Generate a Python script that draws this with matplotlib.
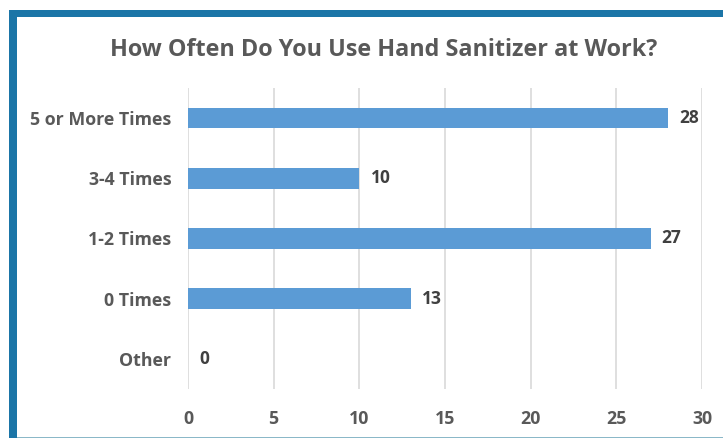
import matplotlib.pyplot as plt
from matplotlib.patches import Rectangle

categories = ["Other", "0 Times", "1-2 Times", "3-4 Times", "5 or More Times"]
counts = [0, 13, 27, 10, 28]
x_ticks = [0, 5, 10, 15, 20, 25, 30]

plt.rcParams["font.family"] = ["Open Sans", "DejaVu Sans"]

fig = plt.figure(figsize=(7.23, 4.38), dpi=100)
ax = fig.add_axes([0.260, 0.112, 0.711, 0.687])

ax.barh(categories, counts, height=0.34, color="#5B9BD5", zorder=3)
for y, v in enumerate(counts):
    ax.text(v + 0.65, y, str(v), va="center", ha="left", fontsize=12.5,
            fontweight="bold", color="#404040")

ax.set_xlim(0, 30)
ax.set_ylim(-0.5, 4.5)
ax.set_xticks(x_ticks)
ax.xaxis.grid(True, color="#D9D9D9", linewidth=1.2, zorder=0)
ax.tick_params(length=0, labelsize=12.8, labelcolor="#595959")
ax.tick_params(axis="x", pad=15)
ax.tick_params(axis="y", pad=12)
for lbl in ax.get_xticklabels() + ax.get_yticklabels():
    lbl.set_fontweight("bold")
for s in ax.spines.values():
    s.set_visible(False)

fig.text(0.530, 0.885, "How Often Do You Use Hand Sanitizer at Work?",
         ha="center", va="center", fontsize=16.8, fontweight="bold",
         color="#595959")

# frame around the chart
blue = "#1B75A7"
fig.add_artist(Rectangle((9 / 723, 0), 8 / 723, 1 - 10 / 438,
                         transform=fig.transFigure, color=blue, lw=0))
fig.add_artist(Rectangle((9 / 723, 1 - 17 / 438), 1, 7 / 438,
                         transform=fig.transFigure, color=blue, lw=0))
fig.add_artist(Rectangle((17 / 723, 0), 1, 1.5 / 438,
                         transform=fig.transFigure, color="#8BB8C8", lw=0))

fig.savefig("out.png", dpi=100)
